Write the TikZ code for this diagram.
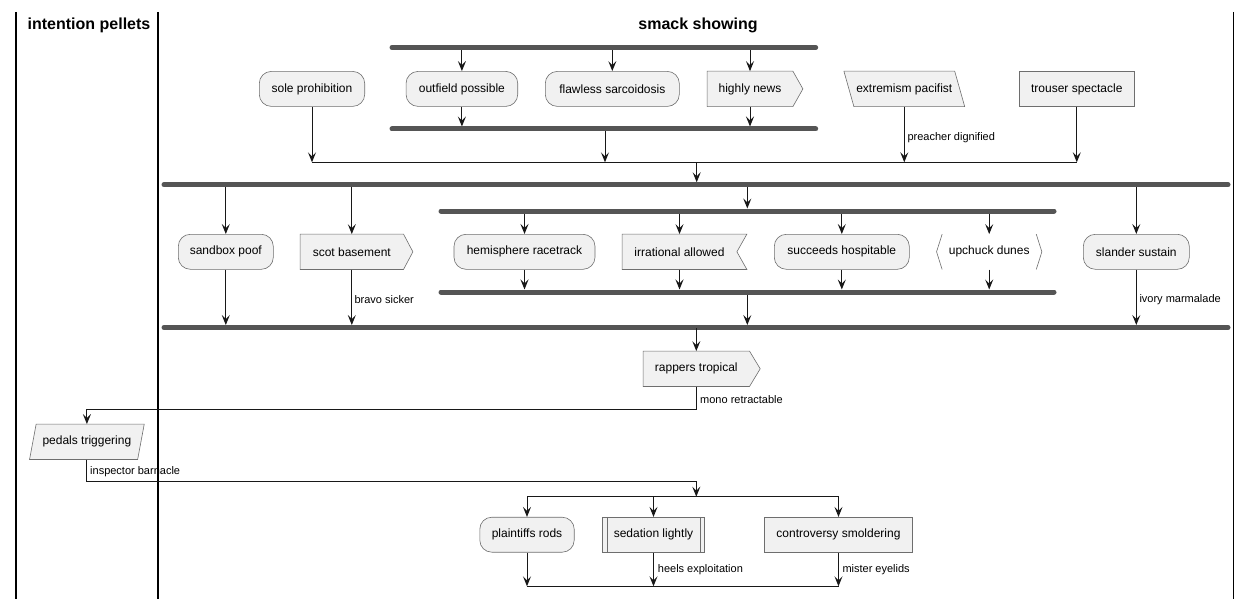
\documentclass[tikz,border=0pt]{standalone}
\usepackage{fontspec}
\setmainfont{Liberation Sans}
\usetikzlibrary{arrows.meta}
\definecolor{fillc}{HTML}{F1F1F1}
\definecolor{linec}{HTML}{181818}
\definecolor{bordc}{HTML}{6E6E6E}
\definecolor{barc}{HTML}{555555}
\pgfdeclarelayer{bg}
\pgfsetlayers{bg,main}
\begin{document}
\begin{tikzpicture}[x=1pt,y=-1pt,
  every node/.style={font=\fontsize{12}{14}\selectfont, inner sep=0pt},
  round/.style={draw=bordc, fill=fillc, line width=0.6pt, rounded corners=12pt, minimum height=35pt},
  box/.style={draw=bordc, fill=fillc, line width=0.6pt, minimum height=35pt},
  bare/.style={minimum height=35pt},
  shp/.style={draw=bordc, fill=fillc, line width=0.6pt, line join=miter},
  edge/.style={draw=bordc, line width=0.6pt},
  flow/.style={draw=linec, line width=1pt, -{Stealth[length=10pt,width=8pt,inset=4pt]}},
  plain/.style={draw=linec, line width=1pt},
  bar/.style={draw=barc, line width=5pt, line cap=round},
  split/.style={draw=linec, line width=1.5pt},
  lbl/.style={font=\fontsize{11}{13}\selectfont, anchor=west},
  lane/.style={draw=black, line width=1.5pt},
  title/.style={font=\bfseries\fontsize{16}{19}\selectfont}
]
\useasboundingbox (0,0) rectangle (1251,599);

% swimlanes
\draw[lane] (16,12) -- (16,599);
\draw[lane] (158,12) -- (158,599);
\draw[lane] (1233.5,12) -- (1233.5,599);
\node[title] (t1) at (89,25) {intention pellets};
\node[title] (t2) at (698,25) {smack showing};

% bar coordinates
\coordinate (b1l) at (392,47.5);   \coordinate (b1r) at (815.7,47.5);
\coordinate (b2l) at (392,129);    \coordinate (b2r) at (815.7,129);
\coordinate (b2a) at (0,126.5);
\coordinate (b3l) at (164,184.8);  \coordinate (b3r) at (1228,184.8);
\coordinate (b3a) at (0,182.3);
\coordinate (b4l) at (441,211);    \coordinate (b4r) at (1054,211);
\coordinate (b4a) at (0,208.5);
\coordinate (b5l) at (441,292);    \coordinate (b5r) at (1054,292);
\coordinate (b5a) at (0,289.5);
\coordinate (b6l) at (164,327.5);  \coordinate (b6r) at (1228,327.5);
\coordinate (b6a) at (0,325);
\coordinate (m) at (0,162.3);
\coordinate (b2o) at (605,129);
\coordinate (mo) at (696.7,162.3);
\coordinate (b3o) at (747.3,184.8);
\coordinate (b5o) at (747.3,292);
\coordinate (b6o) at (696.3,327.5);
\coordinate (k1) at (0,409.3);
\coordinate (k2) at (0,481.7);
\coordinate (s1c) at (696.3,496.7);
\coordinate (s1) at (0,496.7);
\coordinate (s2) at (0,586.3);

% row 1
\node[round, minimum width=105.4pt] (sole) at (312,88.9) {sole prohibition};
\node[round, minimum width=111.7pt] (outf) at (461.9,88.9) {outfield possible};
\node[round, minimum width=134pt] (flaw) at (612.3,88.9) {flawless sarcoidosis};
\node[bare, minimum width=85.4pt] (high) at (750,88.9) {highly news};
\node[bare, minimum width=110.4pt] (extr) at (904.3,88.9) {extremism pacifist};
\node[box, minimum width=115pt] (trou) at (1076.8,88.9) {trouser spectacle};

% row 2
\node[round, minimum width=95pt] (sand) at (225.8,251.8) {sandbox poof};
\node[bare, minimum width=103pt] (scot) at (351.8,251.8) {scot basement};
\node[round, minimum width=141pt] (hemi) at (524.5,251.8) {hemisphere racetrack};
\node[bare, minimum width=114.4pt] (irra) at (679.5,251.8) {irrational allowed};
\node[round, minimum width=135pt] (succ) at (841.8,251.8) {succeeds hospitable};
\node[bare, minimum width=93.7pt] (upch) at (989.2,251.8) {upchuck dunes};
\node[round, minimum width=106pt] (slan) at (1136.3,251.8) {slander sustain};

% middle
\node[bare, minimum width=106pt] (rapp) at (696.3,368.8) {rappers tropical};
\node[bare, minimum width=107.7pt] (pedl) at (86.9,441.8) {pedals triggering};

% row 3
\node[round, minimum width=94.4pt] (plai) at (527,534.7) {plaintiffs rods};
\node[box, minimum width=101.6pt] (seda) at (653.5,534.7) {sedation lightly};
\node[box, minimum width=148.4pt] (cont) at (838.5,534.7) {controversy smoldering};
\draw[edge] ([xshift=4.6pt]seda.north west) -- ([xshift=4.6pt]seda.south west);
\draw[edge] ([xshift=-4.6pt]seda.north east) -- ([xshift=-4.6pt]seda.south east);

% special shapes (behind text)
\begin{pgfonlayer}{bg}
\draw[shp] (high.north west) -- (high.north east) -- ([xshift=10pt]high.east) -- (high.south east) -- (high.south west) -- cycle;
\draw[shp] ([xshift=-5pt]extr.north west) -- ([xshift=-5pt]extr.north east) -- ([xshift=5pt]extr.south east) -- ([xshift=5pt]extr.south west) -- cycle;
\draw[shp] (scot.north west) -- (scot.north east) -- ([xshift=9.4pt]scot.east) -- (scot.south east) -- (scot.south west) -- cycle;
\draw[shp] (irra.north west) -- ([xshift=10pt]irra.north east) -- (irra.east) -- ([xshift=10pt]irra.south east) -- (irra.south west) -- cycle;
\draw[edge] (upch.north west) -- ([xshift=-5.6pt]upch.west) -- (upch.south west);
\draw[edge] (upch.north east) -- ([xshift=5.6pt]upch.east) -- (upch.south east);
\draw[shp] (rapp.north west) -- (rapp.north east) -- ([xshift=10.7pt]rapp.east) -- (rapp.south east) -- (rapp.south west) -- cycle;
\draw[shp] ([xshift=3.3pt]pedl.north west) -- ([xshift=3.3pt]pedl.north east) -- ([xshift=-3.3pt]pedl.south east) -- ([xshift=-3.3pt]pedl.south west) -- cycle;
\end{pgfonlayer}

% connectors: top fork
\draw[flow] (b1l -| outf) -- (outf.north);
\draw[flow] (b1l -| flaw) -- (flaw.north);
\draw[flow] (b1l -| high) -- (high.north);
\draw[flow] (outf.south) -- (outf.south |- b2a);
\draw[flow] (high.south) -- (high.south |- b2a);

% merge line
\draw[plain] (sole |- m) -- (trou |- m);
\draw[flow] (sole.south) -- (sole.south |- m);
\draw[flow] (b2o) -- (b2o |- m);
\draw[flow] (extr.south) -- (extr.south |- m);
\draw[flow] (trou.south) -- (trou.south |- m);
\node[lbl] (l1) at (907.3,137.3) {preacher dignified};
\draw[flow] (mo) -- (mo |- b3a);

% big fork
\draw[flow] (b3l -| sand) -- (sand.north);
\draw[flow] (b3l -| scot) -- (scot.north);
\draw[flow] (b3o) -- (b3o |- b4a);
\draw[flow] (b3l -| slan) -- (slan.north);
\draw[flow] (b4l -| hemi) -- (hemi.north);
\draw[flow] (b4l -| irra) -- (irra.north);
\draw[flow] (b4l -| succ) -- (succ.north);
\draw[flow] (b4l -| upch) -- (upch.north);
\draw[flow] (hemi.south) -- (hemi.south |- b5a);
\draw[flow] (irra.south) -- (irra.south |- b5a);
\draw[flow] (succ.south) -- (succ.south |- b5a);
\draw[flow] (upch.south) -- (upch.south |- b5a);
\draw[flow] (sand.south) -- (sand.south |- b6a);
\draw[flow] (scot.south) -- (scot.south |- b6a);
\draw[flow] (b5o) -- (b5o |- b6a);
\draw[flow] (slan.south) -- (slan.south |- b6a);
\node[lbl] (l2) at (354.3,300) {bravo sicker};
\node[lbl] (l3) at (1139.3,300) {ivory marmalade};

% bars
\draw[bar] (b1l) -- (b1r);
\draw[bar] (b2l) -- (b2r);
\draw[bar] (b3l) -- (b3r);
\draw[bar] (b4l) -- (b4r);
\draw[bar] (b5l) -- (b5r);
\draw[bar] (b6l) -- (b6r);

% lower flow
\draw[flow] (b6o) -- (rapp.north);
\draw[flow] (rapp.south) -- (rapp.south |- k1) -- (pedl.north |- k1) -- (pedl.north);
\node[lbl] (l4) at (700,399.3) {mono retractable};
\draw[flow] (pedl.south) -- (pedl.south |- k2) -- (k2 -| s1c) -- (s1c);
\node[lbl] (l5) at (90,472) {inspector barnacle};

% split
\draw[split] (s1 -| plai) -- (s1 -| cont);
\draw[flow] (s1 -| plai) -- (plai.north);
\draw[flow] (s1 -| seda) -- (seda.north);
\draw[flow] (s1 -| cont) -- (cont.north);
\draw[flow] (plai.south) -- (plai.south |- s2);
\draw[flow] (seda.south) -- (seda.south |- s2);
\draw[flow] (cont.south) -- (cont.south |- s2);
\draw[split] (s2 -| plai) -- (s2 -| cont);
\node[lbl] (l6) at (657.7,570) {heels exploitation};
\node[lbl] (l7) at (842.3,570) {mister eyelids};
\end{tikzpicture}
\end{document}
